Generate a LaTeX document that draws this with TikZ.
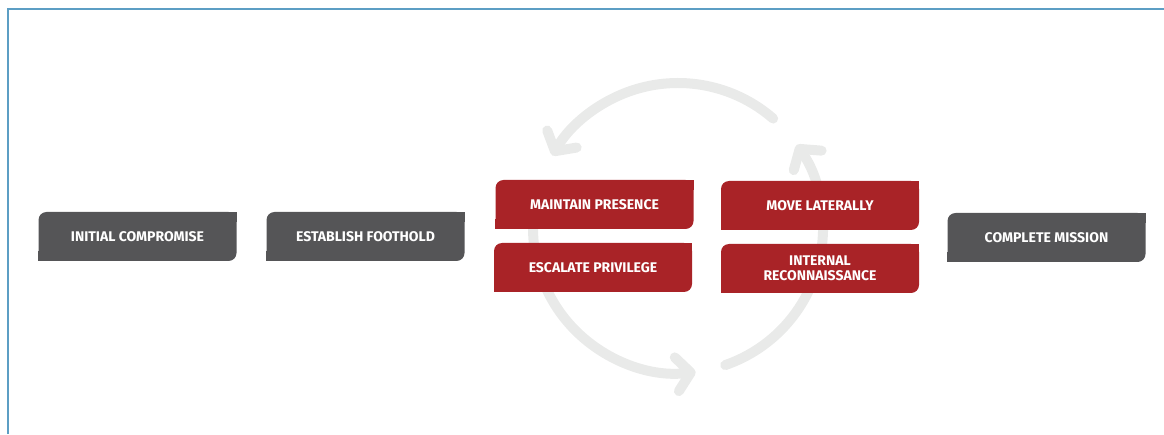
\documentclass[tikz,border=0pt]{standalone}
\usepackage{fontspec}
\newfontfamily\boxfont{Fira Sans}
\usepackage{tikz}
\usetikzlibrary{arrows.meta}

\definecolor{framecol}{RGB}{92,158,196}
\definecolor{boxgray}{RGB}{85,85,87}
\definecolor{boxred}{RGB}{169,35,39}
\definecolor{ringcol}{RGB}{233,234,233}

\begin{document}
\begin{tikzpicture}[x=1pt,y=1pt,
        stepbox/.style={fill=#1, rounded corners=8pt, minimum width=198pt, minimum height=49pt,
            inner sep=0pt, text=white, align=center, font=\boxfont\bfseries\fontsize{14}{14.5}\selectfont,
            append after command={\pgfextra{
                \fill[#1,sharp corners] (\tikzlastnode.north east) rectangle ++(-10pt,-10pt);
                \fill[#1,sharp corners] (\tikzlastnode.south west) rectangle ++(10pt,10pt);}}},
        ring/.style={ringcol, line width=10pt, line cap=round}]
        \useasboundingbox (0,0) rectangle (1164,434);
        \draw[framecol, line width=1.5pt] (8,0) -- (8,425) -- (1164,425);

        % cycle arrows
        \draw[ring, -{Straight Barb[length=14pt,width=34pt,round]}] (678,206) ++(49:145) arc[start angle=49, end angle=150, radius=145];
        \draw[ring, -{Straight Barb[length=14pt,width=34pt,round]}] (678,206) ++(165:145) arc[start angle=165, end angle=277, radius=145];
        \draw[ring, -{Straight Barb[length=14pt,width=34pt,round]}] (678,206) ++(289:145) arc[start angle=289, end angle=395, radius=145];

        \node[stepbox=boxgray] (init) at (137.5,197.5) {INITIAL COMPROMISE};
        \node[stepbox=boxgray] (foot) at (365.5,197.5) {ESTABLISH FOOTHOLD};
        \node[stepbox=boxred] (maint) at (594.5,229.5) {MAINTAIN PRESENCE};
        \node[stepbox=boxred] (escal) at (593,166.5) {ESCALATE PRIVILEGE};
        \node[stepbox=boxred] (move) at (820,228.5) {MOVE LATERALLY};
        \node[stepbox=boxred] (recon) at (820,165.5) {INTERNAL\\RECONNAISSANCE};
        \node[stepbox=boxgray] (done) at (1046.5,196.5) {COMPLETE MISSION};
\end{tikzpicture}
\end{document}
